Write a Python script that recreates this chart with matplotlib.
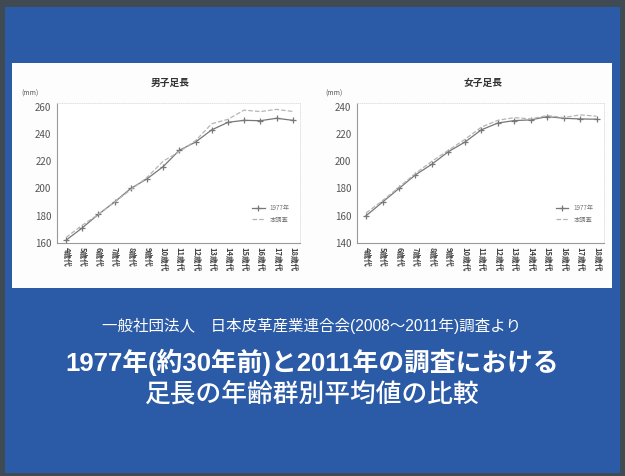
import matplotlib
matplotlib.use("Agg")
import matplotlib.pyplot as plt
from matplotlib.patches import Rectangle

plt.rcParams['font.family'] = ['Noto Sans CJK JP', 'DejaVu Sans']

ages = ["4歳代", "5歳代", "6歳代", "7歳代", "8歳代", "9歳代", "10歳代", "11歳代",
        "12歳代", "13歳代", "14歳代", "15歳代", "16歳代", "17歳代", "18歳代"]
male_1977 = [162, 171, 181, 190, 200, 207, 216, 228, 234, 243, 248.5, 250, 249.7, 251.5, 250]
male_2011 = [164, 173, 181, 190, 199, 208, 220, 227, 235, 247.5, 250.7, 257.5, 256.4, 258, 256.5]
female_1977 = [160, 170, 180, 190, 197.8, 207, 214, 223, 228, 229.8, 230.3, 232.7, 231.5, 231, 230.8]
female_2011 = [162, 171, 181, 191, 200, 208, 216, 225, 230, 232, 231, 233.5, 232, 234, 233]
legend_labels = ["1977年", "本調査"]
titles = ["男子足長", "女子足長"]
source_text = "一般社団法人　日本皮革産業連合会(2008～2011年)調査より"
title_line1 = "1977年(約30年前)と2011年の調査における"
title_line2 = "足長の年齢群別平均値の比較"

W, H = 625, 476
fig = plt.figure(figsize=(W / 100, H / 100), dpi=100)
fig.patch.set_facecolor('#3f4a52')

def px_rect(x0, y0, x1, y1):
    return [x0 / W, 1 - y1 / H, (x1 - x0) / W, (y1 - y0) / H]

# blue background
bg = fig.add_axes(px_rect(0, 0, W, H))
bg.set_xlim(0, W)
bg.set_ylim(H, 0)
bg.axis('off')
bg.add_patch(Rectangle((5, 7), 615, 466, facecolor='#2b5aa6', edgecolor='none'))
bg.add_patch(Rectangle((12, 63), 600, 225, facecolor='#fdfdfd', edgecolor='none'))

bfam = ['Liberation Sans', 'Noto Sans CJK JP']
bg.text(312, 326, source_text, color='white', fontsize=11.2, ha='center', va='center', family=bfam)
bg.text(312, 362, title_line1, color='white', fontsize=18.5, fontweight='bold', ha='center', va='center',
        family=bfam)
bg.text(312, 394, title_line2, color='white', fontsize=18.5, fontweight='medium', ha='center', va='center',
        family=bfam)

def make_panel(rect, old, new, ylim, ticks, title, title_x, mm_x):
    ax = fig.add_axes(px_rect(*rect))
    x = list(range(len(ages)))
    ax.plot(x, old, color='#777777', lw=0.9, marker='+', ms=4, mew=0.9, label=legend_labels[0])
    ax.plot(x, new, color='#b5b5b5', lw=0.9, ls='--', label=legend_labels[1])
    ax.set_xlim(-0.55, 14.45)
    ax.set_ylim(*ylim)
    ax.set_yticks(ticks)
    ax.set_xticks(x)
    ax.set_xticklabels(ages, rotation=-90, fontsize=5.5, color='#444444', fontweight='bold')
    ax.tick_params(axis='y', labelsize=7, colors='#555555', length=0, pad=4)
    ax.tick_params(axis='x', length=0, pad=3)
    for s in ['left', 'bottom']:
        ax.spines[s].set_color('#999999')
        ax.spines[s].set_linewidth(0.8)
    for s in ['top', 'right']:
        ax.spines[s].set_color('#dddddd')
        ax.spines[s].set_linewidth(0.6)
        ax.spines[s].set_linestyle(':')
    ax.set_facecolor('white')
    leg = ax.legend(loc='lower right', fontsize=4.5, frameon=False, handlelength=2,
                    bbox_to_anchor=(0.98, 0.1))
    for t in leg.get_texts():
        t.set_color('#777777')
    bg.text(title_x, 83, title, fontsize=7, color='#333333', ha='center', va='center', fontweight='bold')
    bg.text(mm_x, 94, "(mm)", fontsize=5, color='#555555', ha='center', va='center')
    return ax

make_panel((57, 103, 300, 243), male_1977, male_2011, (160, 262.7), [160, 180, 200, 220, 240, 260],
           titles[0], 170, 30)
make_panel((357, 103, 604, 243), female_1977, female_2011, (140, 242.7), [140, 160, 180, 200, 220, 240],
           titles[1], 483, 334)

fig.savefig("out.png", dpi=100, facecolor=fig.get_facecolor())
